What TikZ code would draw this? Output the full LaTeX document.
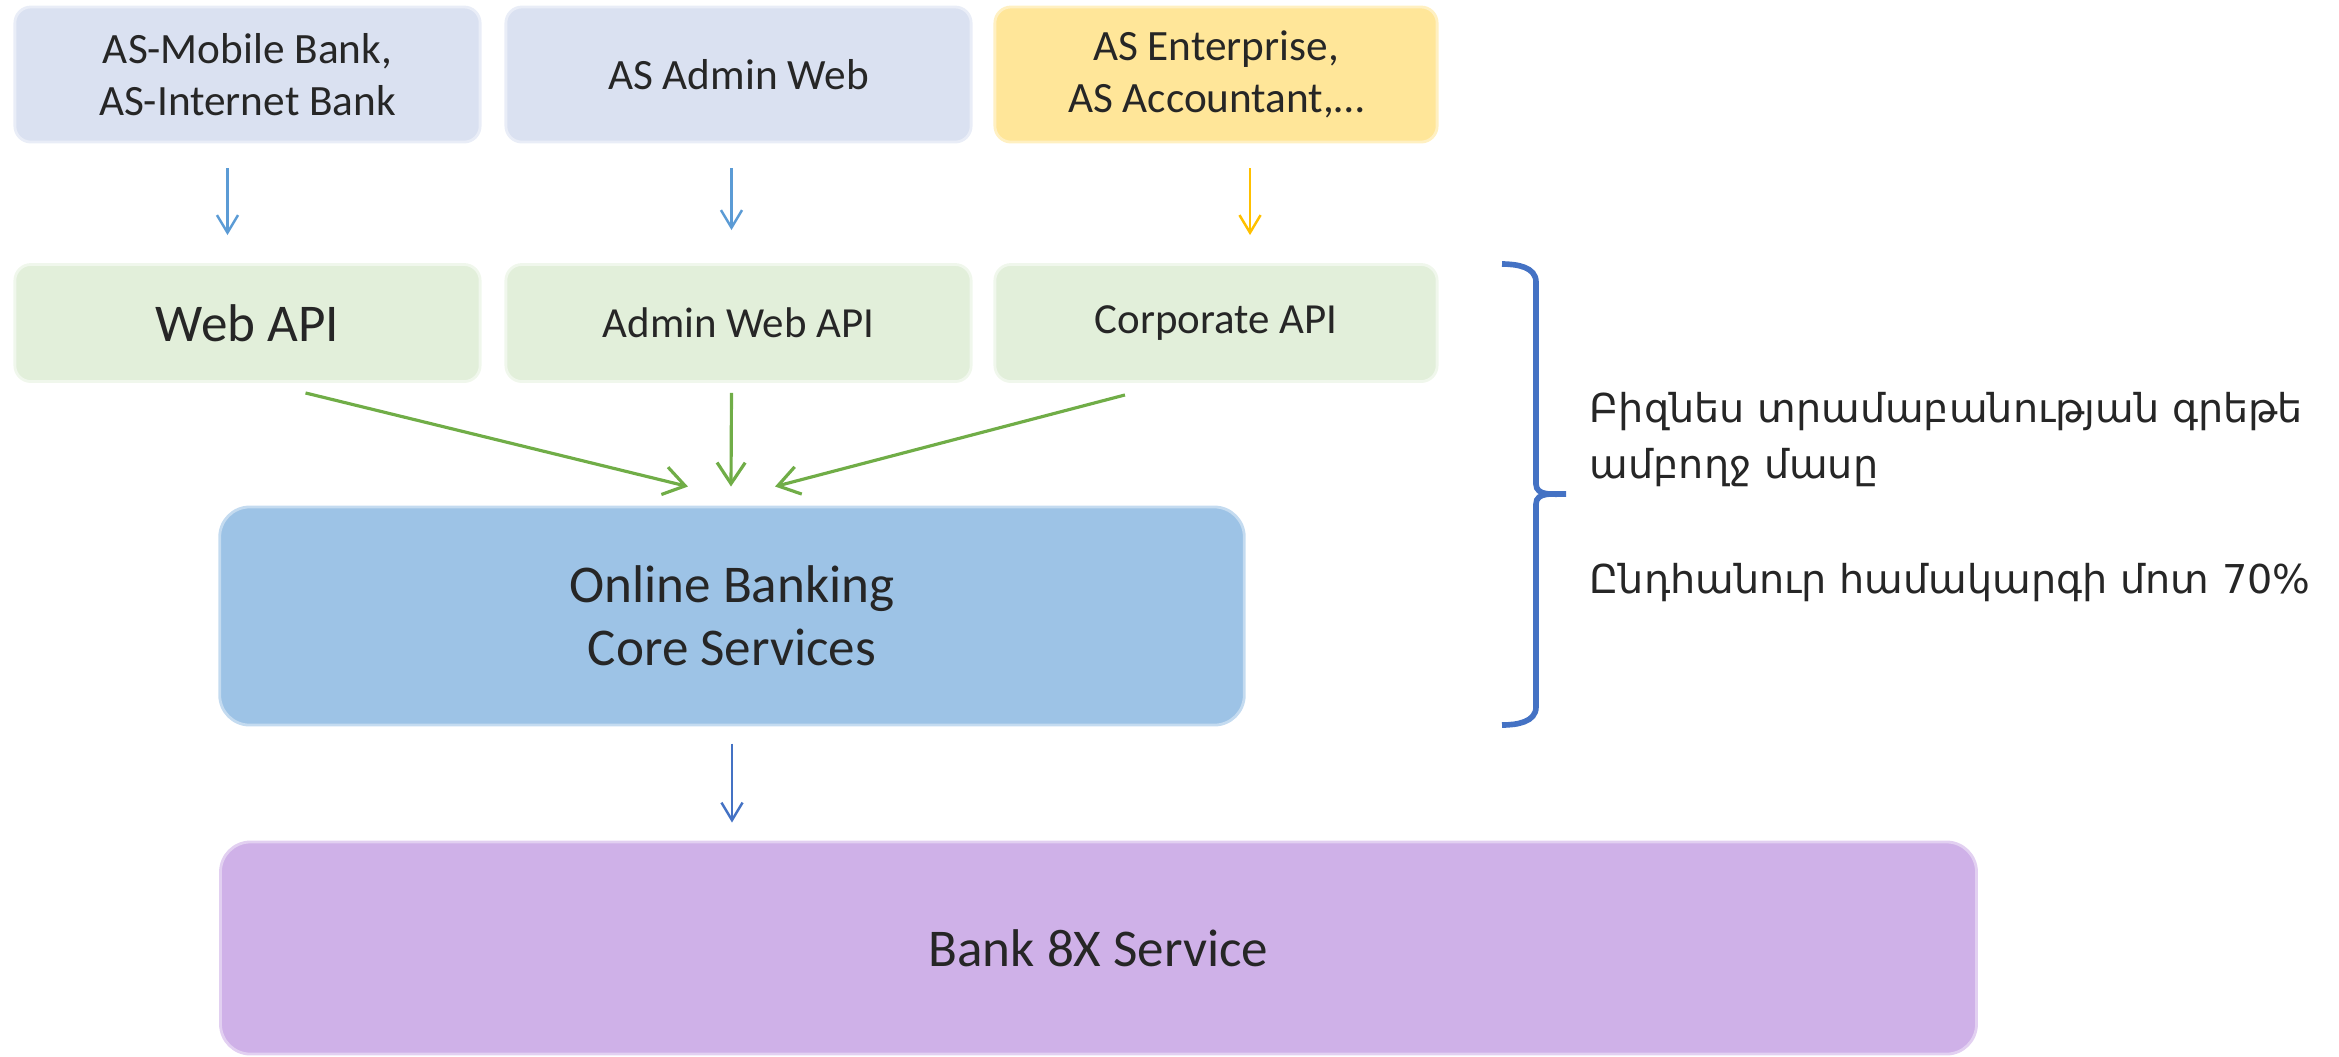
\documentclass[tikz,border=0pt]{standalone}
\usepackage{fontspec}
\setmainfont{Carlito}
\newfontfamily\armfont{DejaVu Sans}
\usetikzlibrary{arrows.meta}

\definecolor{azulclaro}{HTML}{DAE1F1}
\definecolor{amarillo}{HTML}{FFE699}
\definecolor{verdeclaro}{HTML}{E2EFDA}
\definecolor{azulcore}{HTML}{9DC3E6}
\definecolor{lila}{HTML}{CFB1E8}
\definecolor{textogris}{HTML}{262626}
\definecolor{flechaazul}{HTML}{5B9BD5}
\definecolor{flechaamarilla}{HTML}{FFC000}
\definecolor{flechaverde}{HTML}{70AD47}
\definecolor{azuloscuro}{HTML}{4472C4}

\begin{document}
\begin{tikzpicture}[x=0.01cm, y=0.01cm,
    caja/.style={rounded corners=0.16cm, align=center, text=textogris, line width=0.8pt, inner sep=0pt},
    cliente/.style={caja, fill=azulclaro, draw=azulclaro!60!white, minimum height=1.35cm, font=\fontsize{12.3}{14.8}\selectfont},
    api/.style={caja, fill=verdeclaro, draw=verdeclaro!50!white, minimum height=1.17cm, font=\fontsize{12.2}{14}\selectfont},
    flecha/.style={-{Straight Barb[length=5pt,width=6pt]}, line width=0.7pt},
    flechav/.style={-{Straight Barb[length=6pt,width=8pt]}, line width=0.9pt, flechaverde}]
    \useasboundingbox (0,0) rectangle (2339,-1056);

    % Clientes
    \node[cliente, minimum width=4.65cm] (movil) at (247.5,-74.5) {AS-Mobile Bank,\\AS-Internet Bank};
    \node[cliente, minimum width=4.65cm] (admweb) at (738.5,-74.5) {AS Admin Web};
    \node[cliente, fill=amarillo, draw=amarillo!60!white, minimum width=4.42cm] (empresa) at (1216,-74.5) {AS Enterprise,\\AS Accountant,\dots};

    % APIs
    \node[api, minimum width=4.65cm, font=\fontsize{15.1}{18}\selectfont] (webapi) at (247.5,-323) {Web API};
    \node[api, minimum width=4.65cm] (admapi) at (738.5,-323) {Admin Web API};
    \node[api, minimum width=4.42cm] (corpapi) at (1216,-323) {Corporate API};

    % Servicios
    \node[caja, rounded corners=0.3cm, fill=azulcore, draw=azulcore!60!white, minimum width=10.24cm, minimum height=2.18cm, font=\fontsize{15.1}{18}\selectfont] (core) at (732,-616) {Online Banking\\Core Services};
    \node[caja, rounded corners=0.3cm, fill=lila, draw=lila!60!white, minimum width=17.55cm, minimum height=2.12cm, font=\fontsize{15.1}{18}\selectfont] (banco) at (1098.5,-948) {Bank 8X Service};

    % Flechas de arriba
    \draw[flecha, flechaazul, shorten <=0.25cm, shorten >=0.28cm] ([xshift=-0.2cm]movil.south) -- ([xshift=-0.2cm]webapi.north);
    \draw[flecha, flechaazul, shorten <=0.25cm, shorten >=0.33cm] ([xshift=-0.07cm]admweb.south) -- ([xshift=-0.07cm]admapi.north);
    \draw[flecha, flechaamarilla, shorten <=0.25cm, shorten >=0.28cm] ([xshift=0.34cm]empresa.south) -- ([xshift=0.34cm]corpapi.north);

    % Flechas verdes
    \draw[flechav] ([xshift=0.58cm, yshift=-0.1cm]webapi.south) -- ([xshift=-0.44cm, yshift=0.19cm]core.north);
    \draw[flechav] ([xshift=-0.07cm, yshift=-0.1cm]admapi.south) -- ([xshift=-0.01cm, yshift=0.19cm]core.north);
    \draw[flechav] ([xshift=-0.91cm, yshift=-0.12cm]corpapi.south) -- ([xshift=0.43cm, yshift=0.19cm]core.north);

    % Flecha abajo
    \draw[flecha, azuloscuro, shorten <=0.17cm, shorten >=0.18cm] (core.south) -- (core.south |- banco.north);

    % Llave
    \draw[azuloscuro, line width=1.6pt] (1502,-264) to[out=0, in=90] (1536,-282) -- (1536,-484) to[out=-90, in=180] (1566,-494)
        to[out=180, in=90] (1536,-504) -- (1536,-707) to[out=-90, in=0] (1502,-725);

    % Texto
    \node[anchor=base west, inner sep=0pt, text=textogris, font=\armfont\fontsize{11.3}{14}\selectfont] (linea1) at (1589,-422) {Բիզնես տրամաբանության գրեթե};
    \node[anchor=base west, inner sep=0pt, text=textogris, font=\armfont\fontsize{11.3}{14}\selectfont] (linea2) at (1589,-478) {ամբողջ մասը};
    \node[anchor=base west, inner sep=0pt, text=textogris, font=\armfont\fontsize{11.3}{14}\selectfont] (linea3) at (1589,-593) {Ընդհանուր համակարգի մոտ 70\%};
\end{tikzpicture}
\end{document}
